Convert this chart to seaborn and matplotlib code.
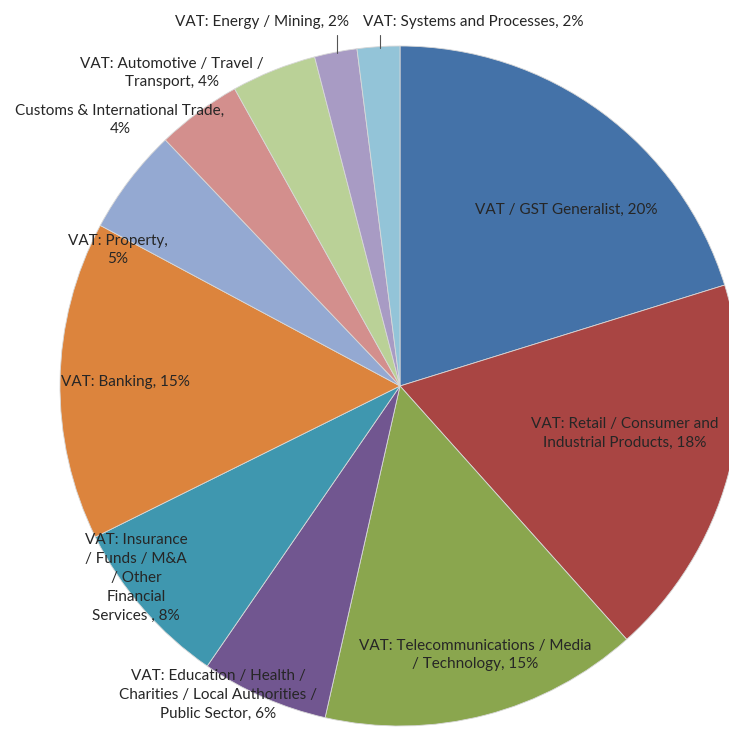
import matplotlib
matplotlib.use("Agg")
import matplotlib.pyplot as plt
import seaborn as sns

sns.set_theme(style="white")
plt.rcParams["font.family"] = ["Lato", "DejaVu Sans"]

# Data
categories = [
    "VAT / GST Generalist",
    "VAT: Retail / Consumer and\nIndustrial Products",
    "VAT: Telecommunications / Media\n/ Technology",
    "VAT: Education / Health /\nCharities / Local Authorities /\nPublic Sector",
    "VAT: Insurance\n/ Funds / M&A\n/ Other\nFinancial\nServices ",
    "VAT: Banking",
    "VAT: Property,\n",
    "Customs & International Trade,\n",
    "VAT: Automotive / Travel /\nTransport",
    "VAT: Energy / Mining",
    "VAT: Systems and Processes",
]
shares = [20, 18, 15, 6, 8, 15, 5, 4, 4, 2, 2]
colors = ["#4472A8", "#A94543", "#8AA64E", "#715690", "#3F97AF",
          "#DC843D", "#94A9D2", "#D38F8D", "#BAD197", "#A89BC4", "#93C4D8"]

# Label anchor points in pixel coordinates (x from left, y from top)
label_xy = [(566, 210), (625, 433), (475, 655), (218, 695), (136, 578),
            (125, 382), (118, 250), (120, 120), (172, 73), (262, 22), (473, 22)]

W, H = 729, 733
fig = plt.figure(figsize=(W / 100, H / 100), dpi=100)
ax = fig.add_axes([0, 0, 1, 1])

cx, cy, r = 400, H - 386, 340
ax.pie(shares, colors=sns.color_palette(colors), startangle=90, counterclock=False,
       center=(cx, cy), radius=r, frame=True,
       wedgeprops=dict(edgecolor="#d8d8d8", linewidth=0.6))
ax.set_xlim(0, W)
ax.set_ylim(0, H)
ax.set_aspect("equal")
ax.axis("off")

for cat, val, (x, y) in zip(categories, shares, label_xy):
    if cat.endswith("\n"):
        txt = f"{cat}{val}%"
    else:
        txt = f"{cat}, {val}%"
    ax.text(x, H - y, txt, ha="center", va="center", fontsize=11,
            color="#262626", linespacing=1.45)

# Leader lines for the two thinnest slices
ax.plot([337, 337], [H - 35, H - 53], color="#555555", lw=0.8)
ax.plot([380, 380], [H - 35, H - 48], color="#555555", lw=0.8)

fig.savefig("out.png", dpi=100, facecolor="white")
